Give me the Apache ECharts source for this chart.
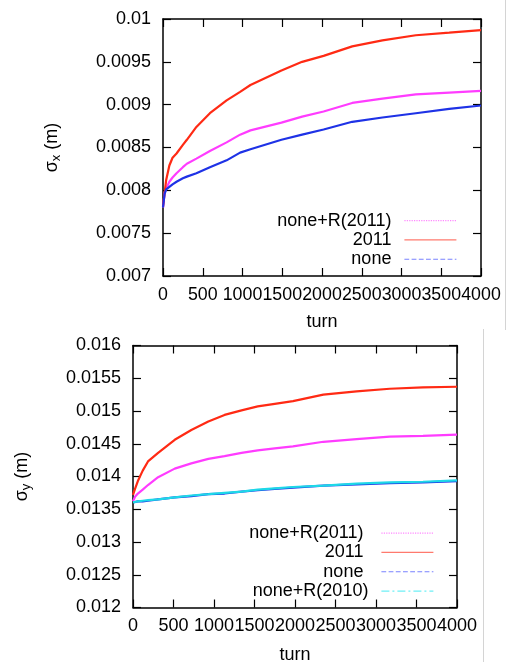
<!DOCTYPE html>
<html>
<head>
<meta charset="utf-8">
<script src="https://cdn.jsdelivr.net/npm/echarts@6/dist/echarts.min.js"></script>
<style>
  html, body { margin: 0; padding: 0; background: #fff; }
  #chart { width: 507px; height: 667px; }
</style>
</head>
<body>
<div id="chart"></div>
<script>
// Horizontal beam size growth versus turn
const turnsX = [0, 20, 40, 80, 120, 170, 250, 300, 420, 590, 800, 970, 1100, 1490, 1750, 2020, 2380, 2760, 3180, 3600, 4000];
const sigmaXNoneR2011 = [0.00780, 0.00797, 0.00802, 0.00810, 0.00815, 0.00820, 0.00827, 0.00831, 0.00837, 0.00846, 0.00856, 0.00865, 0.00870, 0.00879, 0.00886, 0.00892, 0.00902, 0.00907, 0.00912, 0.00914, 0.00916];
const sigmaX2011 = [0.00781, 0.00797, 0.00812, 0.00829, 0.00838, 0.00843, 0.00853, 0.00859, 0.00874, 0.00890, 0.00905, 0.00915, 0.00923, 0.00940, 0.00950, 0.00957, 0.00968, 0.00975, 0.00981, 0.00984, 0.00987];
const sigmaXNone = [0.00780, 0.00796, 0.00801, 0.00804, 0.00807, 0.00810, 0.00814, 0.00816, 0.00820, 0.00827, 0.00835, 0.00844, 0.00848, 0.00859, 0.00865, 0.00871, 0.00880, 0.00885, 0.00890, 0.00895, 0.00899];

// Vertical beam size growth versus turn
const turnsY = [0, 25, 60, 120, 185, 310, 515, 720, 930, 1130, 1340, 1540, 1750, 1975, 2350, 2760, 3170, 3580, 4000];
const sigmaYNoneR2011 = [0.01362, 0.01369, 0.01374, 0.01380, 0.01387, 0.01399, 0.01412, 0.01420, 0.01427, 0.01431, 0.01436, 0.01440, 0.01443, 0.01446, 0.01453, 0.01457, 0.01461, 0.01462, 0.01464];
const sigmaY2011 = [0.01372, 0.01381, 0.01393, 0.01409, 0.01423, 0.01436, 0.01456, 0.01471, 0.01484, 0.01494, 0.01501, 0.01507, 0.01511, 0.01515, 0.01525, 0.01530, 0.01534, 0.01536, 0.01537];
const sigmaYNone = [0.01361, 0.01361, 0.01362, 0.01362, 0.01363, 0.01365, 0.01368, 0.01370, 0.01373, 0.01374, 0.01377, 0.01379, 0.01381, 0.01383, 0.01386, 0.01388, 0.01390, 0.01391, 0.01393];
const sigmaYNoneR2010 = [0.01361, 0.01361, 0.01362, 0.01363, 0.01364, 0.01365, 0.01368, 0.01371, 0.01373, 0.01375, 0.01377, 0.01380, 0.01382, 0.01384, 0.01386, 0.01389, 0.01391, 0.01392, 0.01394];

// Tick labels
const turnTicks = ['0', '500', '1000', '1500', '2000', '2500', '3000', '3500', '4000'];
const sigmaXTicks = ['0.007', '0.0075', '0.008', '0.0085', '0.009', '0.0095', '0.01'];
const sigmaYTicks = ['0.012', '0.0125', '0.013', '0.0135', '0.014', '0.0145', '0.015', '0.0155', '0.016'];

const FONT = 'Liberation Sans';
const C_MAG = '#ff3cff', C_RED = '#ff2a14', C_BLUE = '#1e32e6', C_CYAN = '#1ed8e8';

const pairs = (xs, ys) => xs.map((x, i) => [x, ys[i]]);

const boxLine = { onZero: false, lineStyle: { color: '#000', width: 1.5 } };
const tick = { inside: true, length: 8, lineStyle: { color: '#000', width: 1.2 } };

function xAxes(g, nameGap, labelSize) {
  return [
    {
      type: 'value', gridIndex: g, position: 'bottom', min: 0, max: 4000, interval: 500,
      axisLine: boxLine, axisTick: tick, splitLine: { show: false },
      axisLabel: { color: '#000', fontSize: labelSize, fontFamily: FONT, margin: 10,
        showMinLabel: true, showMaxLabel: true, hideOverlap: false,
        formatter: (v, i) => turnTicks[i] },
      name: 'turn', nameLocation: 'middle', nameGap: nameGap,
      nameTextStyle: { color: '#000', fontSize: 18, fontFamily: FONT }
    },
    {
      type: 'value', gridIndex: g, position: 'top', min: 0, max: 4000, interval: 500,
      axisLine: boxLine, axisTick: tick, splitLine: { show: false },
      axisLabel: { show: false }
    }
  ];
}

function yAxes(g, min, max, labels, sub) {
  return [
    {
      type: 'value', gridIndex: g, position: 'left', min: min, max: max, interval: 0.0005,
      axisLine: boxLine, axisTick: tick, splitLine: { show: false },
      axisLabel: { color: '#000', fontSize: 18, fontFamily: FONT, margin: 12,
        showMinLabel: true, showMaxLabel: true,
        formatter: (v, i) => labels[i] },
      name: '{a|σ}{b|' + sub + '}{a| (m)}', nameLocation: 'middle', nameGap: 100,
      nameTextStyle: {
        color: '#000', fontFamily: FONT,
        rich: {
          a: { fontSize: 18, fontFamily: FONT, color: '#000', lineHeight: 22, verticalAlign: 'middle' },
          b: { fontSize: 13, fontFamily: FONT, color: '#000', lineHeight: 22, verticalAlign: 'bottom' }
        }
      }
    },
    {
      type: 'value', gridIndex: g, position: 'right', min: min, max: max, interval: 0.0005,
      axisLine: boxLine, axisTick: tick, splitLine: { show: false },
      axisLabel: { show: false }
    }
  ];
}

function series(name, xi, yi, data, color) {
  return {
    name: name, type: 'line', xAxisIndex: xi, yAxisIndex: yi, data: data,
    symbol: 'none', showSymbol: false, animation: false,
    lineStyle: { color: color, width: 2.2 }, itemStyle: { color: color }
  };
}

// Legend samples are drawn thin and pale, each in its own dash pattern
function legendItem(name, color, type) {
  return {
    name: name,
    itemStyle: { color: color, opacity: 0 },
    lineStyle: { color: color, width: 1.2, type: type, opacity: 1 }
  };
}

const legendText = { color: '#000', fontSize: 18, fontFamily: FONT, lineHeight: 19.3, padding: [0, 8, 0, 0] };

const option = {
  backgroundColor: '#fff',
  animation: false,
  grid: [
    { left: 163, top: 19, width: 318, height: 257, outerBoundsMode: 'none', containLabel: false },
    { left: 133, top: 345.5, width: 324, height: 262, outerBoundsMode: 'none', containLabel: false }
  ],
  xAxis: [...xAxes(0, 37.5, 17.8), ...xAxes(1, 39, 18)],
  yAxis: [...yAxes(0, 0.007, 0.01, sigmaXTicks, 'x'), ...yAxes(1, 0.012, 0.016, sigmaYTicks, 'y')],
  legend: [
    {
      orient: 'vertical', align: 'right', right: 50, top: 211, padding: 0, itemGap: 0,
      itemWidth: 52, itemHeight: 10, textStyle: legendText, selectedMode: false,
      data: [
        legendItem('none+R(2011)', '#ff88ff', 'dotted'),
        legendItem('2011', '#ff7a6e', 'solid'),
        legendItem('none', '#7a82ff', 'dashed')
      ]
    },
    {
      orient: 'vertical', align: 'right', right: 73, top: 523.5, padding: 0, itemGap: 0,
      itemWidth: 52, itemHeight: 10, textStyle: legendText, selectedMode: false,
      data: [
        legendItem('none+R(2011) ', '#ff88ff', 'dotted'),
        legendItem('2011 ', '#ff7a6e', 'solid'),
        legendItem('none ', '#7a82ff', 'dashed'),
        legendItem('none+R(2010)', '#6ef0f6', [8, 3, 2, 3])
      ]
    }
  ],
  graphic: [
    { type: 'line', shape: { x1: 505.5, y1: 0, x2: 505.5, y2: 330 }, style: { stroke: '#d4d4d4', lineWidth: 1 } },
    { type: 'line', shape: { x1: 483.5, y1: 329, x2: 483.5, y2: 662 }, style: { stroke: '#d4d4d4', lineWidth: 1 } }
  ],
  series: [
    series('none+R(2011)', 0, 0, pairs(turnsX, sigmaXNoneR2011), C_MAG),
    series('2011', 0, 0, pairs(turnsX, sigmaX2011), C_RED),
    series('none', 0, 0, pairs(turnsX, sigmaXNone), C_BLUE),
    series('none+R(2011) ', 2, 2, pairs(turnsY, sigmaYNoneR2011), C_MAG),
    series('2011 ', 2, 2, pairs(turnsY, sigmaY2011), C_RED),
    series('none ', 2, 2, pairs(turnsY, sigmaYNone), C_BLUE),
    series('none+R(2010)', 2, 2, pairs(turnsY, sigmaYNoneR2010), C_CYAN)
  ]
};

const chart = echarts.init(document.getElementById('chart'), null, { renderer: 'canvas' });
chart.setOption(option);
</script>
</body>
</html>
